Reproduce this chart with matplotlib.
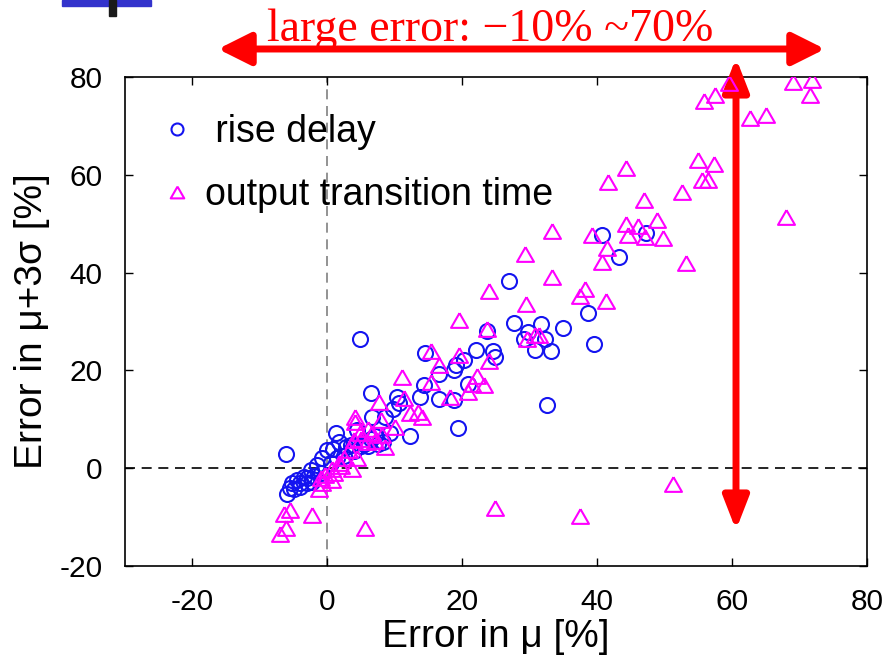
import numpy as np
import matplotlib
matplotlib.use('Agg')
import matplotlib.pyplot as plt
from matplotlib.patches import Rectangle

plt.rcParams['font.family'] = ['Liberation Sans', 'DejaVu Sans']
plt.rcParams['axes.unicode_minus'] = False

# error in mu [%] vs error in mu+3sigma [%]
rise_x = [40.7, 47.2, 43.2,
          27.0, 38.7, 35.0, 27.7, 31.7, 29.8, 32.2, 29.1, 30.8, 33.1, 39.6,
          23.6, 4.9, 22.1, 24.6, 24.9, 20.2, 19.1, 18.7, 14.5, 16.6, 14.3,
          20.9, 13.8, 16.5, 18.7, 6.4, 10.3, 10.6, 9.8, 32.5, 6.6, 8.6, 19.4,
          12.3, 1.3, -6.2, 1.7, 2.7, 8.3, 9.3, 4.4, -0.8, -1.5, -2.5, -3.5,
          -4.5, -5.2, -6.0, -5.0, -4.0, -2.3, 0.0, 0.9,
          3.5, 5.5, 6.5, 7.5, -1.0, 0.5, 1.5, 2.5, -3.0, -2.0, 4.0, 5.0, 6.0,
          -5.5, -4.0, -3.0, 7.0]
rise_y = [47.6, 48.2, 43.2,
          38.2, 31.8, 28.6, 29.7, 29.4, 27.9, 26.5, 26.5, 24.1, 23.9, 25.5,
          28.0, 26.5, 24.1, 24.0, 22.8, 22.1, 21.1, 20.0, 23.6, 19.2, 17.0,
          17.3, 14.6, 14.1, 13.9, 15.4, 14.6, 13.4, 12.2, 13.0, 10.5, 10.5, 8.2,
          6.5, 7.1, 2.9, 5.4, 4.4, 5.4, 7.1, 7.8, 2.0, 0.6, -0.4, -1.8,
          -2.5, -3.1, -5.2, -4.2, -3.8, -2.8, 3.7, 4.0,
          4.8, 5.0, 6.0, 5.0, -1.0, 1.0, 2.0, 2.5, -3.0, -1.5, 3.5, 4.5, 4.5,
          -4.0, -3.0, -2.0, 6.5]

trans_x = [59.5, 57.4, 55.9, 69.0, 71.8, 71.5, 62.7, 65.1, 55.0, 57.3, 55.5,
           56.4, 52.6, 68.0, 44.2, 41.6, 46.9, 44.3, 46.1, 48.8, 44.6, 47.1,
           49.7, 39.2, 41.4, 40.7, 53.2,
           33.3, 29.3, 33.3, 23.9, 38.2, 37.4, 41.3, 29.5, 19.5, 23.7, 30.8,
           31.4, 29.6, 15.3, 19.5, 24.0, 16.5, 11.1, 22.2, 15.3, 23.2, 21.4,
           20.9, 18.2, 7.6, 11.3, 4.1, 13.5, 12.3, 14.0,
           4.1, 7.9, 10.1, 4.9, 6.6, 8.1, 8.6, 5.9, 3.9, 3.2, 4.4, 2.4, 1.7,
           0.7, 3.7, -0.3, 0.7, -0.8, -1.3, -5.5, -6.5, -2.3, -6.1, -7.0, 5.6,
           24.8, 37.5, 51.2,
           2.0, 1.0, 5.0, 6.0, 7.0, -1.0]
trans_y = [78.8, 76.4, 75.1, 78.9, 79.3, 76.4, 71.6, 72.3, 63.1, 62.3, 59.0,
           59.0, 56.4, 51.4, 61.3, 58.5, 54.8, 50.0, 49.5, 50.7, 47.6, 47.3,
           47.0, 47.6, 45.1, 42.2, 42.0,
           48.5, 43.9, 39.1, 36.3, 36.6, 35.2, 34.2, 33.5, 30.3, 28.4, 27.2,
           27.2, 26.5, 23.9, 23.1, 21.9, 21.2, 18.7, 18.8, 17.6, 17.0, 17.3,
           15.6, 14.6, 13.6, 14.3, 10.5, 11.5, 11.2, 10.5,
           9.5, 9.8, 8.4, 7.1, 7.1, 6.7, 4.4, 5.4, 5.7, 3.7, 2.0, 2.0, 1.0,
           -0.1, -0.1, -1.4, -2.5, -3.1, -4.2, -8.6, -9.3, -9.6, -12.3, -13.5, -12.3,
           -8.2, -9.8, -3.3,
           0.5, -1.0, 6.0, 8.0, 5.5, -2.0]

# wide, flat triangle like the gnuplot one
tri = [(0, 1), (-1.15, -1), (1.15, -1), (0, 1)]

fig = plt.figure(figsize=(8.88, 6.64), dpi=100)
ax = fig.add_axes([125 / 888, 1 - 566 / 664, 742 / 888, 489 / 664])

ax.axhline(0, color='black', lw=1.2, ls=(0, (6, 4)), zorder=1)
ax.axvline(0, color='gray', lw=1.2, ls=(0, (6, 4)), zorder=1)

ax.plot(rise_x, rise_y, ls='none', marker='o', ms=10.8, mfc='none',
        mec='#1414f0', mew=1.5, label=' rise delay', zorder=3)
ax.plot(trans_x, trans_y, ls='none', marker=tri, ms=12.2, mfc='none',
        mec='#ff00ff', mew=1.5, label='output transition time', zorder=4)

ax.set_xlim(-30, 80)
ax.set_ylim(-20, 80)
ax.set_xticks([-20, 0, 20, 40, 60, 80])
ax.set_yticks([-20, 0, 20, 40, 60, 80])
ax.tick_params(direction='in', length=6, width=1, top=True, right=True,
               labelsize=21.5, pad=16)
for s in ax.spines.values():
    s.set_linewidth(1.2)

ax.set_xlabel('Error in μ [%]', fontsize=28, labelpad=2)
ax.set_ylabel('Error in μ+3σ [%]', fontsize=28, labelpad=7)

ax.legend(loc='upper left', bbox_to_anchor=(0.025, 0.955), frameon=False,
          fontsize=27, markerscale=0.8, handlelength=1.0, handletextpad=0.25,
          labelspacing=0.72, borderaxespad=0)

# range annotation arrows
H = 664
ax.annotate('', xy=(825, H - 49), xytext=(218, H - 49),
            xycoords='figure pixels', textcoords='figure pixels',
            arrowprops=dict(arrowstyle='<|-|>,head_length=0.9,head_width=0.45',
                            mutation_scale=22, lw=5, color='red',
                            shrinkA=0, shrinkB=0), annotation_clip=False)
ax.annotate('', xy=(736, H - 58), xytext=(736, H - 530),
            xycoords='figure pixels', textcoords='figure pixels',
            arrowprops=dict(arrowstyle='<|-|>,head_length=0.9,head_width=0.35',
                            mutation_scale=22, lw=5, color='red',
                            shrinkA=0, shrinkB=0), annotation_clip=False)
fig.text(490 / 888, 1 - 30 / 664, 'large error: \u221210% ~70%', color='red',
         fontsize=33, family=['Liberation Serif', 'DejaVu Serif'],
         ha='center', va='center')

# corner logo fragment
fig.patches.append(Rectangle((62 / 888, 1 - 6 / 664), 89 / 888, 6 / 664,
                             transform=fig.transFigure, color='#3333cc'))
fig.patches.append(Rectangle((109 / 888, 1 - 16 / 664), 7 / 888, 16 / 664,
                             transform=fig.transFigure, color='#1a1a1a'))

fig.savefig('out.png', dpi=100)
